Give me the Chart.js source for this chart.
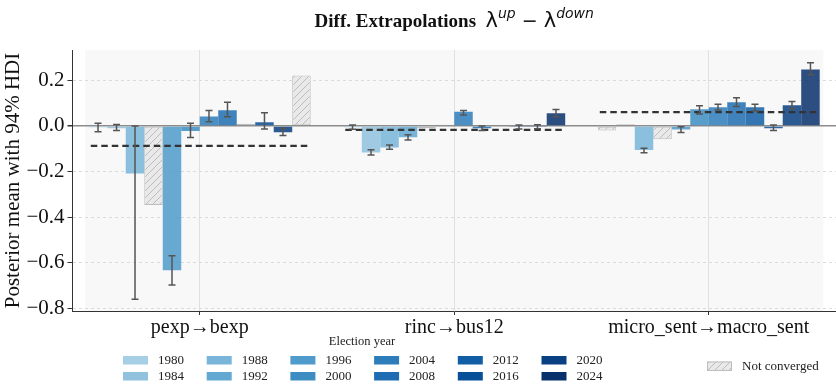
<!DOCTYPE html>
<html>
<head>
<meta charset="utf-8">
<script src="https://cdn.jsdelivr.net/npm/chart.js@4.4.1/dist/chart.umd.min.js"></script>
<style>
  html, body { margin: 0; padding: 0; background: #fff; }
  #wrap { width: 836px; height: 385px; }
</style>
</head>
<body>
<div id="wrap"><canvas id="chart" width="836" height="385"></canvas></div>
<script>
// Diff. Extrapolations (lambda up - lambda down), posterior mean + 94% HDI per election year

const years = ['1980', '1984', '1988', '1992', '1996', '2000', '2004', '2008', '2012', '2016', '2020', '2024'];
const categories = ['pexp\u2192bexp', 'rinc\u2192bus12', 'micro_sent\u2192macro_sent'];

// pexp -> bexp
const pexpMean = [-0.006, -0.010, -0.208, -0.346, -0.632, -0.022, 0.042, 0.069, 0.010, 0.016, -0.027, 0.221];
const pexpLow  = [-0.025, -0.020, -0.759, null, -0.697, -0.050, 0.019, 0.040, null, -0.013, -0.042, null];
const pexpHigh = [0.012, 0.007, 0.000, null, -0.569, 0.012, 0.068, 0.104, null, 0.058, -0.010, null];
const pexpConverged = [true, true, true, false, true, true, true, true, false, true, true, false];

// rinc -> bus12
const rincMean = [-0.006, -0.116, -0.094, -0.049, -0.010, 0.005, 0.062, -0.010, -0.005, -0.005, -0.004, 0.056];
const rincLow  = [-0.014, -0.127, -0.102, -0.061, null, null, 0.048, -0.020, null, -0.013, -0.012, 0.040];
const rincHigh = [0.004, -0.104, -0.083, -0.039, null, null, 0.068, 0.000, null, 0.004, 0.005, 0.072];
const rincConverged = [true, true, true, true, false, false, true, true, false, true, true, true];

// micro_sent -> macro_sent
const microMean = [-0.020, 0.008, -0.105, -0.058, -0.015, 0.073, 0.082, 0.104, 0.082, -0.010, 0.091, 0.248];
const microLow  = [null, null, -0.117, null, -0.029, 0.053, 0.070, 0.085, 0.066, -0.020, 0.075, 0.224];
const microHigh = [null, null, -0.098, null, -0.003, 0.089, 0.095, 0.124, 0.095, 0.004, 0.107, 0.277];
const microConverged = [false, false, true, false, true, true, true, true, true, true, true, true];

// dashed line: average over years for each pair
const groupAverage = [-0.087, -0.017, 0.061];

const yTicks = [-0.8, -0.6, -0.4, -0.2, 0.0, 0.2];

const groups = [
    { mean: pexpMean, low: pexpLow, high: pexpHigh, ok: pexpConverged },
    { mean: rincMean, low: rincLow, high: rincHigh, ok: rincConverged },
    { mean: microMean, low: microLow, high: microHigh, ok: microConverged }
];

// Blues, light to dark
const yearColors = ['#a6cee4', '#90c2de', '#78b5d9', '#62a8d2', '#4f9bcb', '#3d8dc3',
                    '#2d7dbb', '#1e6db2', '#125ea6', '#084f99', '#084082', '#08306b'];

function withAlpha(hex, a) {
    const n = parseInt(hex.slice(1), 16);
    return `rgba(${(n >> 16) & 255}, ${(n >> 8) & 255}, ${n & 255}, ${a})`;
}

// hatch pattern for "not converged"
function makeHatch() {
    const c = document.createElement('canvas');
    c.width = 7;
    c.height = 7;
    const g = c.getContext('2d');
    g.fillStyle = '#e9e9e9';
    g.fillRect(0, 0, 7, 7);
    g.strokeStyle = '#bcbcbc';
    g.lineWidth = 1;
    g.beginPath();
    g.moveTo(0, 7); g.lineTo(7, 0);
    g.moveTo(-2, 2); g.lineTo(2, -2);
    g.moveTo(5, 9); g.lineTo(9, 5);
    g.stroke();
    return g.createPattern(c, 'repeat');
}

const canvas = document.getElementById('chart');
const hatch = makeHatch();

const datasets = years.map((year, k) => ({
    label: year,
    data: groups.map(g => g.mean[k]),
    backgroundColor: groups.map(g => g.ok[k] ? withAlpha(yearColors[k], 0.85) : hatch),
    borderColor: groups.map(g => g.ok[k] ? 'rgba(0,0,0,0)' : '#bdbdbd'),
    borderWidth: groups.map(g => g.ok[k] ? 0 : 1),
    borderSkipped: false
}));

// light panel behind the groups
const panelPlugin = {
    id: 'panel',
    beforeDraw(chart) {
        const { ctx, chartArea, scales } = chart;
        ctx.save();
        ctx.fillStyle = '#ffffff';
        ctx.fillRect(0, 0, chart.width, chart.height);
        const step = scales.x.getPixelForValue(1) - scales.x.getPixelForValue(0);
        const x0 = scales.x.getPixelForValue(0) - 0.45 * step;
        const x1 = scales.x.getPixelForValue(2) + 0.45 * step;
        ctx.fillStyle = '#f8f8f8';
        ctx.fillRect(x0, chartArea.top, x1 - x0, chartArea.bottom - chartArea.top);
        ctx.restore();
    }
};

// dashed group averages and HDI whiskers
const overlayPlugin = {
    id: 'overlay',
    afterDatasetsDraw(chart) {
        const { ctx, scales } = chart;
        const y = scales.y;
        ctx.save();

        const first = chart.getDatasetMeta(0);
        const last = chart.getDatasetMeta(years.length - 1);
        ctx.strokeStyle = '#333333';
        ctx.lineWidth = 2.2;
        ctx.setLineDash([6.5, 4]);
        groupAverage.forEach((m, j) => {
            const a = first.data[j];
            const b = last.data[j];
            const py = y.getPixelForValue(m);
            ctx.beginPath();
            ctx.moveTo(a.x - a.width / 2 + 2, py);
            ctx.lineTo(b.x + b.width / 2 - 3, py);
            ctx.stroke();
        });

        ctx.setLineDash([]);
        ctx.strokeStyle = '#555555';
        ctx.lineWidth = 1.5;
        years.forEach((year, k) => {
            const meta = chart.getDatasetMeta(k);
            groups.forEach((g, j) => {
                if (g.low[k] === null || g.high[k] === null) return;
                const x = meta.data[j].x;
                const lo = y.getPixelForValue(g.low[k]);
                const hi = y.getPixelForValue(g.high[k]);
                ctx.beginPath();
                ctx.moveTo(x, lo); ctx.lineTo(x, hi);
                ctx.moveTo(x - 3.5, lo); ctx.lineTo(x + 3.5, lo);
                ctx.moveTo(x - 3.5, hi); ctx.lineTo(x + 3.5, hi);
                ctx.stroke();
            });
        });
        ctx.restore();
    }
};

// title with lambda superscripts
const titlePlugin = {
    id: 'mathTitle',
    afterDraw(chart) {
        const { ctx, chartArea } = chart;
        const parts = [
            { t: 'Diff. Extrapolations', f: 'bold 19px "Liberation Serif", serif', dy: 0 },
            { t: '  ', f: '19px "Liberation Serif", serif', dy: 0 },
            { t: '\u03bb', f: '21px "DejaVu Sans", sans-serif', dy: 0 },
            { t: 'up', f: 'italic 14px "DejaVu Sans", sans-serif', dy: -9 },
            { t: ' \u2212 ', f: '19px "DejaVu Sans", sans-serif', dy: 0 },
            { t: '\u03bb', f: '21px "DejaVu Sans", sans-serif', dy: 0 },
            { t: 'down', f: 'italic 14px "DejaVu Sans", sans-serif', dy: -9 }
        ];
        ctx.save();
        ctx.fillStyle = '#111111';
        ctx.textBaseline = 'alphabetic';
        ctx.textAlign = 'left';
        let total = 0;
        parts.forEach(p => { ctx.font = p.f; p.w = ctx.measureText(p.t).width; total += p.w; });
        let x = (chartArea.left + chartArea.right) / 2 - total / 2;
        parts.forEach(p => {
            ctx.font = p.f;
            ctx.fillText(p.t, x, 27 + p.dy);
            x += p.w;
        });
        ctx.restore();
    }
};

// legend laid out like the reference: 6 columns x 2 rows, plus "Not converged"
const legendPlugin = {
    id: 'yearLegend',
    afterDraw(chart) {
        const { ctx } = chart;
        ctx.save();
        ctx.fillStyle = '#222222';
        ctx.textBaseline = 'middle';
        ctx.textAlign = 'center';
        ctx.font = '12.5px "Liberation Serif", serif';
        ctx.fillText('Election year', 362, 342);

        ctx.textAlign = 'left';
        ctx.font = '13px "Liberation Serif", serif';
        years.forEach((year, k) => {
            const col = Math.floor(k / 2);
            const row = k % 2;
            const sx = 123 + col * 83.7;
            const sy = 356 + row * 16;
            ctx.fillStyle = yearColors[k];
            ctx.fillRect(sx, sy, 25, 8.5);
            ctx.fillStyle = '#222222';
            ctx.fillText(year, sx + 35, sy + 4.5);
        });

        ctx.fillStyle = hatch;
        ctx.fillRect(707, 361.5, 25, 9);
        ctx.strokeStyle = '#bdbdbd';
        ctx.lineWidth = 1;
        ctx.strokeRect(707.5, 362, 24, 8.5);
        ctx.fillStyle = '#222222';
        ctx.fillText('Not converged', 742, 366.5);
        ctx.restore();
    }
};

new Chart(canvas, {
    type: 'bar',
    data: {
        labels: categories,
        datasets: datasets
    },
    options: {
        responsive: false,
        devicePixelRatio: 1,
        animation: false,
        datasets: {
            bar: {
                categoryPercentage: 0.872,
                barPercentage: 1.0
            }
        },
        layout: {
            padding: { top: 50, right: 0, bottom: 44, left: 0 }
        },
        scales: {
            x: {
                offset: true,
                grid: {
                    offset: false,
                    color: '#e0e0e0',
                    lineWidth: 1,
                    tickColor: '#333333',
                    tickLength: 4
                },
                border: { display: true, color: '#333333', width: 1 },
                ticks: {
                    autoSkip: false,
                    maxRotation: 0,
                    padding: 1,
                    color: '#111111',
                    font: { family: '"Liberation Serif", serif', size: 20 }
                },
                afterFit(scale) { scale.height = 30; }
            },
            y: {
                min: -0.811,
                max: 0.333,
                afterBuildTicks(scale) {
                    scale.ticks = yTicks.map(v => ({ value: v }));
                },
                afterFit(scale) { scale.width = 72.5; },
                grid: {
                    color: c => (c.tick && c.tick.value === 0) ? '#8c8c8c' : '#dcdcdc',
                    lineWidth: c => (c.tick && c.tick.value === 0) ? 1.5 : 1,
                    tickColor: '#333333',
                    tickLength: 5
                },
                border: {
                    display: true,
                    color: '#333333',
                    width: 1,
                    dash: c => (c.tick && c.tick.value === 0) ? [] : [3, 3]
                },
                ticks: {
                    padding: 3,
                    color: '#111111',
                    font: { family: '"Liberation Serif", serif', size: 21 },
                    callback: v => (v < 0 ? '\u2212' : '') + Math.abs(v).toFixed(1)
                },
                title: {
                    display: true,
                    text: 'Posterior mean with 94% HDI',
                    color: '#111111',
                    font: { family: '"Liberation Serif", serif', size: 21 },
                    padding: { top: 1, bottom: 0 }
                }
            }
        },
        plugins: {
            legend: { display: false },
            tooltip: { enabled: false },
            title: { display: false }
        }
    },
    plugins: [panelPlugin, overlayPlugin, titlePlugin, legendPlugin]
});
</script>
</body>
</html>
